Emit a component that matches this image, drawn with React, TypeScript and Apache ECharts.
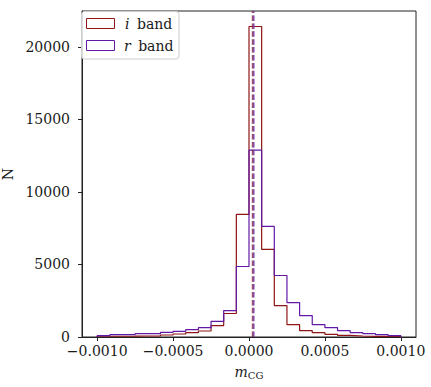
import React, { useEffect, useRef } from "react";
import * as echarts from "echarts";

// Histogram bins: 24 equal bins from -0.001 to 0.001
const binStart = -0.001;
const binEnd = 0.001;
const binCount = 24;

// Counts per bin
const iBandCounts = [
  50, 50, 55, 69, 75, 138, 207, 299, 414, 790, 1620, 8450,
  21400, 6035, 2168, 852, 437, 299, 184, 115, 69, 46, 46, 60,
];
const rBandCounts = [
  92, 161, 161, 230, 230, 322, 391, 506, 644, 1081, 1820, 4860,
  12880, 7624, 4240, 2370, 1475, 851, 644, 437, 299, 230, 161, 92,
];

// Dashed vertical lines (means)
const iBandMean = 0.000025;
const rBandMean = 0.000031;

const xTicks = [-0.001, -0.0005, 0, 0.0005, 0.001];
const yTicks = [0, 5000, 10000, 15000, 20000];

const seriesNames = ["i band", "r band"];
const colors = ["#8e1616", "#6119a6"];

const FONT = "DejaVu Serif";
const TEXT = "#1a1a1a";

function stepData(counts: number[]) {
  const w = (binEnd - binStart) / binCount;
  const pts: number[][] = [[binStart, 0]];
  counts.forEach((c, k) => pts.push([binStart + k * w, c]));
  pts.push([binEnd, counts[counts.length - 1]]);
  pts.push([binEnd, 0]);
  return pts;
}

export default function App() {
  const ref = useRef<HTMLDivElement>(null);
  useEffect(() => {
    document.body.style.margin = "0";
    if (!ref.current) return;
    const chart = echarts.init(ref.current, undefined, { renderer: "svg" });
    const yMax = 22470;
    const fmtX = (v: number) =>
      Math.abs(v) < 1e-12 ? "0.0000" : v.toFixed(4).replace("-", "\u2212");
    chart.setOption({
      animation: false,
      backgroundColor: "#fff",
      grid: {
        left: 82, right: 15, top: 11, bottom: 50,
        containLabel: false,
        outerBoundsMode: "none",
        show: true, borderColor: "#222", borderWidth: 1, backgroundColor: "transparent",
      },
      xAxis: {
        type: "value", min: -0.0011, max: 0.0011,
        name: "{m|m}{s|CG}", nameLocation: "middle", nameGap: 26,
        nameTextStyle: {
          rich: {
            m: { fontFamily: FONT, fontStyle: "italic", fontSize: 14, color: TEXT, lineHeight: 18 },
            s: { fontFamily: FONT, fontSize: 10, color: TEXT, lineHeight: 12, padding: [6, 0, 0, 0] },
          },
        },
        axisLine: { show: true, onZero: false, lineStyle: { color: "#222", width: 1 } },
        axisTick: { show: true, customValues: xTicks, length: 4, lineStyle: { color: "#222" } },
        axisLabel: { customValues: xTicks, formatter: fmtX, fontFamily: FONT, fontSize: 14, color: TEXT, margin: 7 },
        splitLine: { show: false },
      },
      yAxis: {
        type: "value", min: 0, max: yMax,
        name: "N", nameLocation: "middle", nameGap: 60,
        nameTextStyle: { fontFamily: FONT, fontSize: 14, color: TEXT },
        axisLine: { show: true, onZero: false, lineStyle: { color: "#222", width: 1 } },
        axisTick: { show: true, customValues: yTicks, length: 4, lineStyle: { color: "#222" } },
        axisLabel: { customValues: yTicks, formatter: (v: number) => String(v), fontFamily: FONT, fontSize: 14, color: TEXT, margin: 12 },
        splitLine: { show: false },
      },
      series: [
        { name: seriesNames[0], type: "line", step: "end", symbol: "none", data: stepData(iBandCounts), lineStyle: { color: colors[0], width: 1.2 }, z: 2 },
        { name: seriesNames[1], type: "line", step: "end", symbol: "none", data: stepData(rBandCounts), lineStyle: { color: colors[1], width: 1.2 }, z: 3 },
        { name: "i mean", type: "line", symbol: "none", data: [[iBandMean, 0], [iBandMean, yMax]], lineStyle: { color: colors[0], width: 2, type: [5.5, 2.4], opacity: 0.75 }, z: 4 },
        { name: "r mean", type: "line", symbol: "none", data: [[rBandMean, 0], [rBandMean, yMax]], lineStyle: { color: "#7446b8", width: 2, type: [5.5, 2.4], opacity: 0.75 }, z: 5 },
      ],
      graphic: [
        { type: "rect", z: 100, shape: { x: 81.5, y: 11.5, width: 97.5, height: 47.5, r: 3 }, style: { fill: "rgba(255,255,255,0.85)", stroke: "#cccccc", lineWidth: 1 } },
        { type: "rect", z: 101, shape: { x: 86.5, y: 18.5, width: 28, height: 10 }, style: { fill: "none", stroke: colors[0], lineWidth: 1 } },
        { type: "rect", z: 101, shape: { x: 86.5, y: 40.5, width: 28, height: 10 }, style: { fill: "none", stroke: colors[1], lineWidth: 1 } },
        {
          type: "text", z: 101, x: 125, y: 23.5,
          style: {
            text: "{it|i} band", fontFamily: FONT, fontSize: 14, fill: TEXT, verticalAlign: "middle",
            rich: { it: { fontFamily: FONT, fontStyle: "italic", fontSize: 14, fill: TEXT, padding: [0, 3, 0, 0] } },
          },
        },
        {
          type: "text", z: 101, x: 124, y: 45.5,
          style: {
            text: "{it|r} band", fontFamily: FONT, fontSize: 14, fill: TEXT, verticalAlign: "middle",
            rich: { it: { fontFamily: FONT, fontStyle: "italic", fontSize: 14, fill: TEXT, padding: [0, 3, 0, 0] } },
          },
        },
      ],
    });
    return () => chart.dispose();
  }, []);
  return <div ref={ref} style={{ width: 431, height: 387 }} />;
}
